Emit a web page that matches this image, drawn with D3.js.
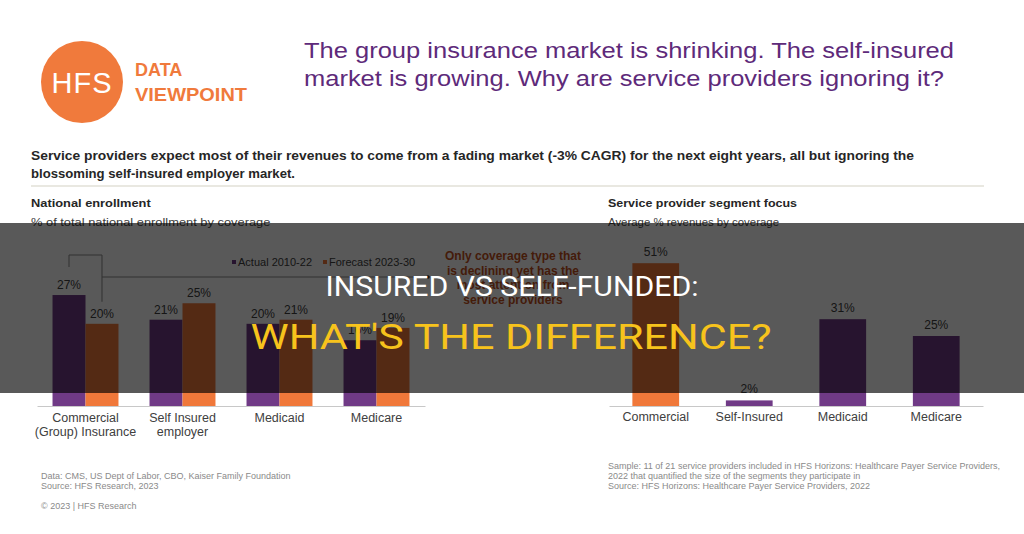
<!DOCTYPE html>
<html lang="en">
<head>
<meta charset="UTF-8">
<title>Insured vs Self-Funded</title>
<style>
  body { margin: 0; background: #fff; }
  svg { display: block; font-family: 'Liberation Sans', Arial, sans-serif; }
  .cat text { fill: #404040; font-size: 12.5px; }
  .val { fill: #404040; font-size: 12px; text-anchor: middle; }
  .foot { fill: #8a8a8a; font-size: 9px; }
</style>
</head>
<body>
<div id="chart"></div>
<script src="https://d3js.org/d3.v7.min.js"></script>
<script>
// --- data ---
const enrollCategories = ["Commercial\n(Group) Insurance", "Self Insured\nemployer", "Medicaid", "Medicare"];
const enrollSeries = ["Actual 2010-22", "Forecast 2023-30"];
const enrollActual = [27, 21, 20, 16];
const enrollForecast = [20, 25, 21, 19];

const focusCategories = ["Commercial", "Self-Insured", "Medicaid", "Medicare"];
const focusValues = [51, 2, 31, 25];

const purple = "#703a86";
const orange = "#f0783a";

const W = 1024, H = 534;
const svg = d3.select("#chart").append("svg").attr("width", W).attr("height", H);

// --- header ---
svg.append("circle").attr("cx", 82).attr("cy", 82).attr("r", 41).attr("fill", "#f07a3c");
svg.append("text").attr("x", 82).attr("y", 93).attr("text-anchor", "middle")
  .attr("fill", "#fff").attr("font-size", 29).attr("letter-spacing", 1).text("HFS");
svg.append("text").attr("x", 135).attr("y", 76).attr("fill", "#f07a3c")
  .attr("font-size", 18).attr("font-weight", "bold").text("DATA");
svg.append("text").attr("x", 135).attr("y", 101).attr("fill", "#f07a3c")
  .attr("font-size", 18).attr("font-weight", "bold")
  .attr("textLength", 112).attr("lengthAdjust", "spacingAndGlyphs").text("VIEWPOINT");

svg.append("text").attr("x", 304).attr("y", 58).attr("fill", "#5e2a7a").attr("font-size", 22)
  .attr("textLength", 650).attr("lengthAdjust", "spacingAndGlyphs")
  .text("The group insurance market is shrinking. The self-insured");
svg.append("text").attr("x", 304).attr("y", 86).attr("fill", "#5e2a7a").attr("font-size", 22)
  .attr("textLength", 640).attr("lengthAdjust", "spacingAndGlyphs")
  .text("market is growing. Why are service providers ignoring it?");

svg.append("text").attr("x", 31).attr("y", 160).attr("fill", "#262626").attr("font-size", 13)
  .attr("font-weight", "bold").attr("textLength", 883).attr("lengthAdjust", "spacingAndGlyphs")
  .text("Service providers expect most of their revenues to come from a fading market (-3% CAGR) for the next eight years, all but ignoring the");
svg.append("text").attr("x", 31).attr("y", 178).attr("fill", "#262626").attr("font-size", 13)
  .attr("font-weight", "bold").attr("textLength", 264).attr("lengthAdjust", "spacingAndGlyphs")
  .text("blossoming self-insured employer market.");
svg.append("line").attr("x1", 31).attr("x2", 984).attr("y1", 186).attr("y2", 186)
  .attr("stroke", "#d4d2c4").attr("stroke-width", 1.2);

function header(x, t1, t2) {
  svg.append("text").attr("x", x).attr("y", 207).attr("fill", "#262626").attr("font-size", 11)
    .attr("font-weight", "bold").attr("textLength", t1.length * 6.3).attr("lengthAdjust", "spacingAndGlyphs").text(t1);
  svg.append("text").attr("x", x).attr("y", 226).attr("fill", "#404040").attr("font-size", 11)
    .attr("textLength", t2.length * 5.7).attr("lengthAdjust", "spacingAndGlyphs").text(t2);
}
header(31, "National enrollment", "% of total national enrollment by coverage");
header(608, "Service provider segment focus", "Average % revenues by coverage");

// --- left chart: national enrollment ---
const base = 406;
const x0 = d3.scaleBand().domain(enrollCategories).range([37, 425]).paddingInner(0.32).paddingOuter(0.16);
const x1 = d3.scaleBand().domain(enrollSeries).range([0, x0.bandwidth()]);
const yL = d3.scaleLinear().domain([0, 30]).range([base, base - 123.3]);
const color = d3.scaleOrdinal().domain(enrollSeries).range([purple, orange]);

const rows = enrollCategories.map((c, i) => ({ cat: c, vals: [enrollActual[i], enrollForecast[i]] }));
const groups = svg.append("g").selectAll("g").data(rows).join("g")
  .attr("transform", d => `translate(${x0(d.cat)},0)`);
const bars = groups.selectAll("g").data(d => d.vals.map((v, j) => ({ s: enrollSeries[j], v }))).join("g");
bars.append("rect").attr("x", d => x1(d.s)).attr("width", x1.bandwidth())
  .attr("y", d => yL(d.v)).attr("height", d => base - yL(d.v)).attr("fill", d => color(d.s));
bars.append("text").attr("class", "val").attr("x", d => x1(d.s) + x1.bandwidth() / 2)
  .attr("y", d => yL(d.v) - 6).text(d => d.v + "%");

const axL = svg.append("g").attr("class", "cat").attr("transform", `translate(0,${base})`)
  .call(d3.axisBottom(x0).tickSize(0).tickFormat(""));
axL.select(".domain").attr("stroke", "#c8c8c8");
axL.selectAll(".tick").append("text").attr("text-anchor", "middle")
  .selectAll("tspan").data(d => d.split("\n")).join("tspan")
  .attr("x", 0).attr("y", (d, i) => 16 + i * 13.5).text(d => d);

// legend
const leg = svg.append("g").attr("font-size", 11).attr("fill", "#404040");
[[232, 0], [323, 1]].forEach(([lx, j]) => {
  leg.append("rect").attr("x", lx).attr("y", 260).attr("width", 4).attr("height", 4).attr("fill", color(enrollSeries[j]));
  leg.append("text").attr("x", lx + 6).attr("y", 266).text(enrollSeries[j]);
});

// bracket + callout
const cA = x0(enrollCategories[0]) + x1(enrollSeries[0]) + x1.bandwidth() / 2;
const cF = x0(enrollCategories[0]) + x1(enrollSeries[1]) + x1.bandwidth() / 2;
svg.append("path").attr("fill", "none").attr("stroke", "#8c8c8c")
  .attr("d", `M${cA},${yL(enrollActual[0]) - 28} V255 H${cF} V${yL(enrollForecast[0]) - 22} M${cF},277 H428`);
svg.append("circle").attr("cx", 428).attr("cy", 277).attr("r", 1.8).attr("fill", "#333");
const note = ["Only coverage type that", "is declining yet has the", "most attention from", "service providers"];
svg.append("g").selectAll("text").data(note).join("text")
  .attr("x", 513).attr("y", (d, i) => 260 + i * 14.5).attr("text-anchor", "middle")
  .attr("font-size", 12).attr("font-weight", "bold").attr("fill", "#c4501c").text(d => d);

// --- right chart: segment focus ---
const xR = d3.scaleBand().domain(focusCategories).range([609, 983]).paddingInner(0.5).paddingOuter(0.25);
const yR = d3.scaleLinear().domain([0, 60]).range([base, base - 168]);
const rb = svg.append("g").selectAll("g").data(focusCategories).join("g");
rb.append("rect").attr("x", d => xR(d)).attr("width", xR.bandwidth())
  .attr("y", (d, i) => yR(focusValues[i])).attr("height", (d, i) => base - yR(focusValues[i]))
  .attr("fill", (d, i) => i === 0 ? orange : purple);
rb.append("text").attr("class", "val").attr("x", d => xR(d) + xR.bandwidth() / 2)
  .attr("y", (d, i) => yR(focusValues[i]) - 7).text((d, i) => focusValues[i] + "%");
const axR = svg.append("g").attr("class", "cat").attr("transform", `translate(0,${base})`)
  .call(d3.axisBottom(xR).tickSize(0).tickPadding(6));
axR.select(".domain").attr("stroke", "#c8c8c8");
axR.selectAll(".tick text").attr("font-family", "'Liberation Sans', Arial, sans-serif").attr("font-size", 12.5).attr("fill", "#404040");

// --- footnotes ---
const footL = ["Data: CMS, US Dept of Labor, CBO, Kaiser Family Foundation", "Source: HFS Research, 2023"];
svg.append("g").selectAll("text").data(footL).join("text").attr("class", "foot")
  .attr("x", 41).attr("y", (d, i) => 479 + i * 10).text(d => d);
svg.append("text").attr("class", "foot").attr("font-size", 8).attr("x", 41).attr("y", 509).text("© 2023 | HFS Research");
const footR = ["Sample: 11 of 21 service providers included in HFS Horizons: Healthcare Payer Service Providers,",
  "2022 that quantified the size of the segments they participate in",
  "Source: HFS Horizons: Healthcare Payer Service Providers, 2022"];
svg.append("g").selectAll("text").data(footR).join("text").attr("class", "foot")
  .attr("x", 608).attr("y", (d, i) => 469 + i * 10).text(d => d);

// --- overlay banner ---
svg.append("rect").attr("x", 0).attr("y", 223).attr("width", W).attr("height", 170).attr("fill", "rgba(0,0,0,0.65)");
svg.append("text").attr("x", 512).attr("y", 296).attr("text-anchor", "middle").attr("fill", "#fff")
  .attr("font-family", "Roboto, sans-serif").attr("font-size", 28)
  .attr("textLength", 373).attr("lengthAdjust", "spacingAndGlyphs").text("INSURED VS SELF-FUNDED:");
svg.append("text").attr("x", 511).attr("y", 349).attr("text-anchor", "middle").attr("fill", "#f7c31c")
  .attr("font-family", "Roboto, sans-serif").attr("font-size", 35)
  .attr("textLength", 521).attr("lengthAdjust", "spacingAndGlyphs").text("WHAT'S THE DIFFERENCE?");
</script>
</body>
</html>
